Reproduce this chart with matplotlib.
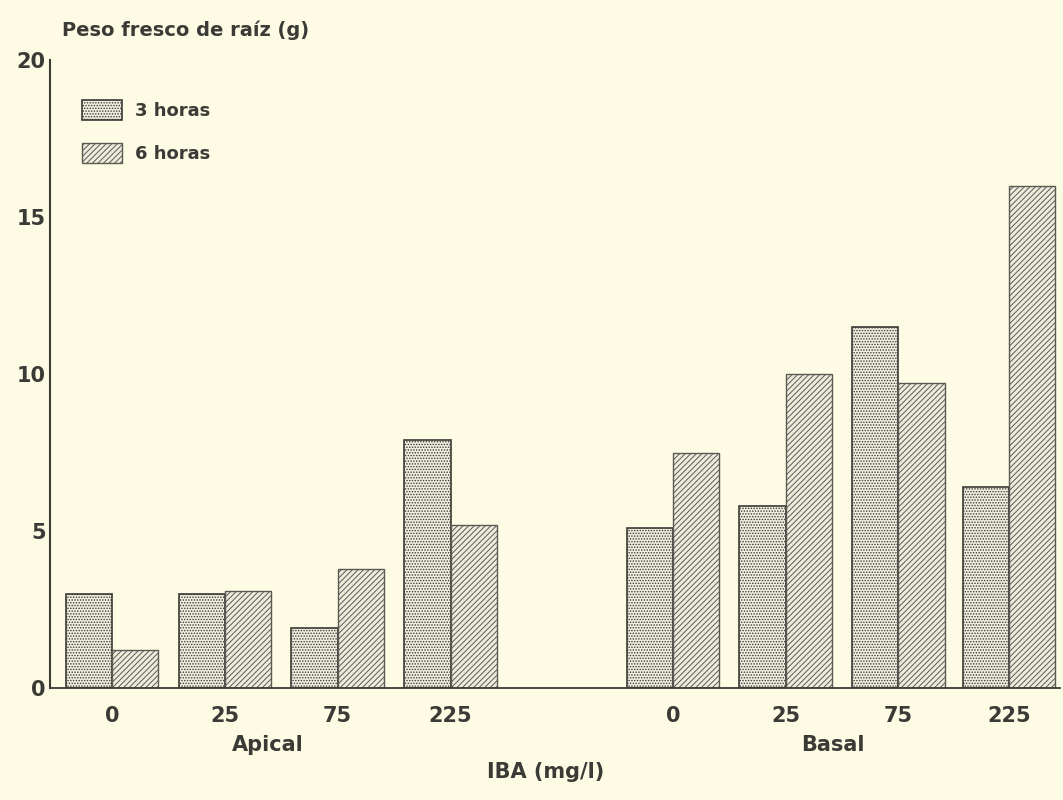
import matplotlib.pyplot as plt
import numpy as np

# data
doses = ["0", "25", "75", "225"]
positions = ["Apical", "Basal"]
horas_3 = [3.0, 3.0, 1.9, 7.9, 5.1, 5.8, 11.5, 6.4]
horas_6 = [1.2, 3.1, 3.8, 5.2, 7.5, 10.0, 9.7, 16.0]

paper = "#fefbe4"
ink = "#3a3a36"

plt.rcParams["font.family"] = ["DejaVu Sans"]
plt.rcParams["font.weight"] = "bold"
plt.rcParams["hatch.linewidth"] = 0.7
plt.rcParams["hatch.color"] = "#77776e"

fig = plt.figure(figsize=(10.63, 8), dpi=100, facecolor=paper)
ax = fig.add_axes([0.047, 0.14, 0.95, 0.785], facecolor=paper)

x = np.array([0, 1, 2, 3, 4.97, 5.97, 6.97, 7.95])
w = 0.41

ax.bar(x - w / 2, horas_3, w, facecolor="#f0efdf", edgecolor=ink, linewidth=1.2,
       hatch="......", label="3 horas")
ax.bar(x + w / 2, horas_6, w, facecolor="#eeecdc", edgecolor="#5a5a55", linewidth=1.0,
       hatch="//////", label="6 horas")

ax.set_xlim(-0.55, 8.4)
ax.set_ylim(0, 20)
ax.set_yticks([0, 5, 10, 15, 20])
ax.tick_params(axis="y", length=0, labelsize=15, labelcolor=ink, pad=3)
ax.set_xticks(x)
ax.set_xticklabels(doses + doses)
ax.tick_params(axis="x", length=0, labelsize=15, labelcolor=ink, pad=13)

for s in ["top", "right"]:
    ax.spines[s].set_visible(False)
ax.spines["left"].set_color(ink)
ax.spines["left"].set_linewidth(1.5)
ax.spines["bottom"].set_color(ink)
ax.spines["bottom"].set_linewidth(1.3)

ax.text(0.058, 0.962, "Peso fresco de raíz (g)", transform=fig.transFigure,
        fontsize=14, color=ink, ha="left", va="center")
ax.text(np.mean(x[:4]) - 0.12, -0.09, positions[0], transform=ax.get_xaxis_transform(),
        fontsize=15, color=ink, ha="center", va="center")
ax.text(np.mean(x[4:]) - 0.08, -0.09, positions[1], transform=ax.get_xaxis_transform(),
        fontsize=15, color=ink, ha="center", va="center")
ax.text(0.513, 0.035, "IBA (mg/l)", transform=fig.transFigure,
        fontsize=15, color=ink, ha="center", va="center")

leg = ax.legend(loc="upper left", bbox_to_anchor=(0.016, 0.962), frameon=False,
                fontsize=13, handlelength=2.2, handleheight=1.3, labelspacing=1.3,
                handletextpad=0.7)
for t in leg.get_texts():
    t.set_color(ink)

fig.savefig("out.png", dpi=100, facecolor=paper)
